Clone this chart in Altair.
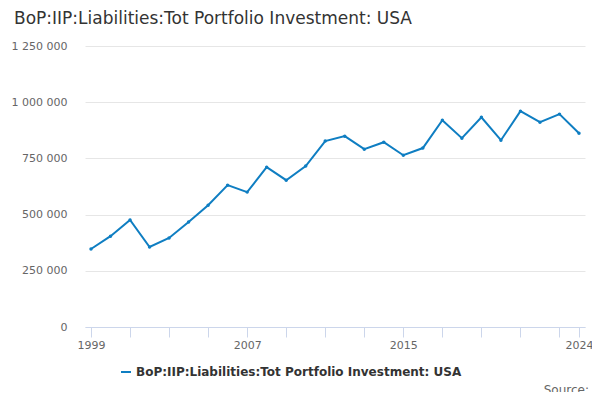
import altair as alt
import pandas as pd

SERIES = "BoP:IIP:Liabilities:Tot Portfolio Investment: USA"
years = list(range(1999, 2025))
values = [347000, 404000, 476000, 356000, 396000, 467000, 542000, 631000, 600000,
          711000, 653000, 716000, 827000, 849000, 791000, 822000, 764000, 796000,
          920000, 840000, 933000, 831000, 960000, 911000, 947000, 862000]

df = pd.DataFrame({"year": years, "value": values, "series": SERIES})

tick_years = list(range(1999, 2024, 2)) + [2024]
label_years = [1999, 2007, 2015, 2024]

line = (
    alt.Chart(df)
    .mark_line(point=alt.OverlayMarkDef(size=12, filled=True), strokeWidth=2)
    .encode(
        x=alt.X(
            "year:Q",
            scale=alt.Scale(domain=[1999, 2024], nice=False, padding=6),
            axis=alt.Axis(
                title=None, values=tick_years, grid=False,
                labelExpr="indexof(%s, datum.value) >= 0 ? datum.value : ''" % label_years,
                format="d", domainColor="#ccd6eb", tickColor="#ccd6eb",
                tickSize=10, labelColor="#666666", labelFontSize=11,
            ),
        ),
        y=alt.Y(
            "value:Q",
            scale=alt.Scale(domain=[0, 1250000]),
            axis=alt.Axis(
                title=None, values=[0, 250000, 500000, 750000, 1000000, 1250000],
                format=",d", domain=False, ticks=False, gridColor="#e6e6e6",
                labelColor="#666666", labelFontSize=11, labelPadding=18,
            ),
        ),
        color=alt.Color(
            "series:N",
            scale=alt.Scale(range=["#0f7ec2"]),
            legend=alt.Legend(
                title=None, orient="none", legendX=35, legendY=320,
                direction="horizontal", labelLimit=0,
                labelFontSize=12, labelFontWeight="bold", labelColor="#333333",
                symbolType="stroke", symbolStrokeWidth=2,
            ),
        ),
    )
)

source = alt.Chart(pd.DataFrame({"t": ["Source:"]})).mark_text(
    align="right", fontSize=12, color="#666666", font="DejaVu Sans"
).encode(text="t:N", x=alt.value(504), y=alt.value(344))

chart = (
    alt.layer(line, source)
    .properties(
        width=500, height=281,
        title=alt.TitleParams(SERIES, anchor="start", fontSize=17,
                              fontWeight="normal", color="#333333", offset=12,
                              dx=3),
        autosize=alt.AutoSizeParams(type="none"),
        padding={"left": 77, "top": 38, "right": 7, "bottom": 65},
    )
    .configure(font="DejaVu Sans")
    .configure_view(stroke=None)
)

chart.save("out.html", embed_options={
    "renderer": "svg", "actions": False,
    "formatLocale": {"decimal": ".", "thousands": "\u00a0", "grouping": [3], "currency": ["", ""]},
})
